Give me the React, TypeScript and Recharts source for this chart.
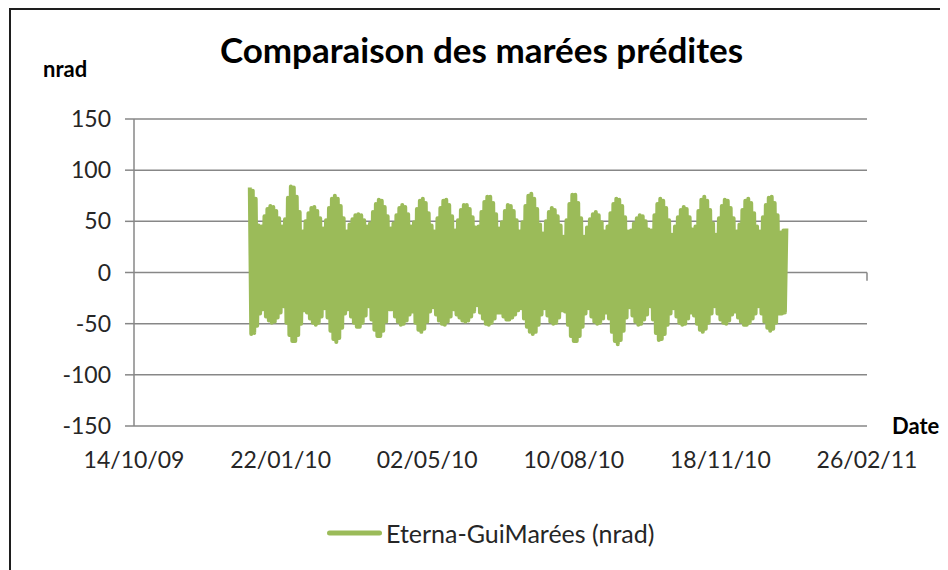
import { LineChart, Line, XAxis, YAxis, CartesianGrid, Legend, ReferenceLine } from "recharts";

const seriesName = "Eterna-GuiMarées (nrad)";
const firstDay = "01/01/10";

// envelope readings (nrad): tops on even days from firstDay, bottoms on odd days
const highs = [
  83, 80, 72, 46, 45, 55, 62, 65, 64, 60, 53, 45,
  52, 73, 84, 83, 74, 59, 40,
  50, 58, 63, 64, 60, 53, 43,
  51, 63, 72, 75, 72, 65, 53, 40,
  47, 52, 56, 57, 56, 51, 45,
  48, 59, 67, 71, 70, 64, 55, 43,
  48, 56, 63, 66, 64, 57, 45,
  49, 62, 70, 72, 68, 58, 46,
  40, 53, 63, 70, 71, 66, 55, 41,
  51, 61, 66, 66, 62, 54, 44,
  45, 59, 69, 74, 74, 68, 57, 43,
  49, 60, 66, 65, 60, 51, 40,
  49, 65, 75, 77, 72, 62, 47,
  38, 50, 59, 63, 61, 55, 46, 35,
  51, 67, 76, 76, 68, 53, 35,
  44, 52, 57, 59, 56, 49, 40,
  45, 58, 67, 72, 71, 65, 54, 40,
  41, 48, 53, 56, 55, 50, 42,
  41, 56, 67, 72, 70, 63, 51, 37,
  45, 54, 61, 64, 62, 54, 42,
  45, 60, 71, 74, 70, 61, 48,
  37, 53, 65, 71, 70, 63, 53, 40,
  47, 61, 70, 72, 68, 58, 45,
  40, 54, 66, 73, 74, 68, 56, 39, 41, 43,
];

const lows = [
  -60, -59, -52, -40, -36, -43, -47, -49, -48, -44, -39,
  -33, -49, -61, -67, -67, -61, -50, -37,
  -39, -45, -49, -51, -49, -43, -35,
  -44, -57, -65, -68, -64, -54, -40,
  -36, -43, -49, -53, -53, -49, -42,
  -33, -46, -56, -62, -62, -57, -48, -36,
  -36, -43, -48, -51, -50, -47, -41,
  -38, -49, -56, -58, -55, -48, -38,
  -34, -41, -47, -50, -51, -48, -43,
  -36, -41, -44, -47, -48, -47, -43, -38,
  -32, -39, -45, -50, -51, -49, -45, -39,
  -39, -43, -46, -46, -44, -41, -37,
  -35, -45, -53, -58, -60, -58, -51, -41,
  -35, -42, -48, -50, -49, -44, -37,
  -38, -51, -62, -67, -67, -62, -53, -40,
  -35, -43, -48, -50, -49, -45, -39,
  -45, -58, -67, -70, -66, -57, -44,
  -34, -42, -48, -51, -50, -46, -41, -33,
  -46, -59, -66, -65, -60, -51, -40,
  -35, -43, -49, -51, -50, -45, -39,
  -42, -50, -56, -58, -55, -49, -40,
  -33, -40, -46, -49, -50, -47, -41,
  -38, -44, -48, -51, -51, -49, -45, -40, -33,
  -40, -48, -54, -57, -55, -49, -40, -40, -39,
];

const xTicks = ["14/10/09", "22/01/10", "02/05/10", "10/08/10", "18/11/10", "26/02/11"];
const yTicks = [-150, -100, -50, 0, 50, 100, 150];

const GREEN = "#9BBB59";
const GRID = "#878787";
const TEXT = "#262626";
const DAY = 86400000;

const toTime = (s: string) => {
  const [d, m, y] = s.split("/").map(Number);
  return Date.UTC(2000 + y, m - 1, d);
};
const tickTimes = xTicks.map(toTime);
const t0 = toTime(firstDay);

const data: { t: number; v: number }[] = [];
highs.forEach((h, i) => {
  data.push({ t: t0 + 2 * i * DAY, v: h });
  if (i < lows.length) data.push({ t: t0 + (2 * i + 1) * DAY, v: lows[i] });
});

const LegendItem = () => (
  <div style={{ display: "flex", alignItems: "center", height: 40 }}>
    <svg width={60} height={10}>
      <line x1={5.5} y1={5} x2={55.5} y2={5} stroke={GREEN} strokeWidth={5} strokeLinecap="round" />
    </svg>
    <span style={{ fontSize: 25, color: TEXT, marginLeft: 2, whiteSpace: "nowrap" }}>{seriesName}</span>
  </div>
);

export default function App() {
  const tick = { fill: TEXT, fontSize: 23, fontFamily: "Lato, sans-serif" };
  return (
    <div style={{ position: "relative", marginLeft: 1, width: 929, height: 560, borderTop: "2px solid #1e1e1e", borderLeft: "2px solid #1e1e1e", fontFamily: "Lato, sans-serif", color: TEXT }}>
      <style>{"html,body{overflow:hidden}"}</style>
      <LineChart width={929} height={550} data={data} margin={{ top: 109, right: 73, left: 0, bottom: 104 }}>
        <CartesianGrid vertical={false} stroke={GRID} strokeWidth={1.5} />
        <XAxis dataKey="t" type="number" domain={[tickTimes[0], tickTimes[tickTimes.length - 1]]} ticks={tickTimes}
          tickFormatter={(v) => xTicks[tickTimes.indexOf(v)] ?? ""} tick={tick} axisLine={false} tickLine={false}
          tickSize={0} tickMargin={26} height={30} interval={0} />
        <YAxis domain={[-150, 150]} ticks={yTicks} tick={tick} width={123} tickSize={9} tickMargin={14}
          axisLine={{ stroke: GRID, strokeWidth: 1.5 }} tickLine={{ stroke: GRID, strokeWidth: 1.5 }} interval={0} />
        <ReferenceLine segment={[{ x: tickTimes[tickTimes.length - 1], y: 0 }, { x: tickTimes[tickTimes.length - 1], y: -8 }]}
          stroke={GRID} strokeWidth={1.5} />
        <Line type="linear" dataKey="v" name={seriesName} stroke={GREEN} strokeWidth={4} strokeLinejoin="round"
          dot={false} activeDot={false} isAnimationActive={false} />
        <Legend layout="vertical" align="center" verticalAlign="middle" content={<LegendItem />}
          wrapperStyle={{ top: 503, left: 313, width: 420, height: 40 }} />
      </LineChart>
      <div style={{ position: "absolute", left: 0, top: 22, width: 941, textAlign: "center", fontSize: 35, fontWeight: 700, lineHeight: 1, color: "#000" }}>
        Comparaison des marées prédites
      </div>
      <div style={{ position: "absolute", left: 32, top: 48, fontSize: 22, fontWeight: 700, lineHeight: 1, color: "#000" }}>nrad</div>
      <div style={{ position: "absolute", left: 881, top: 405, fontSize: 22, fontWeight: 700, lineHeight: 1, color: "#000" }}>Date</div>
    </div>
  );
}
